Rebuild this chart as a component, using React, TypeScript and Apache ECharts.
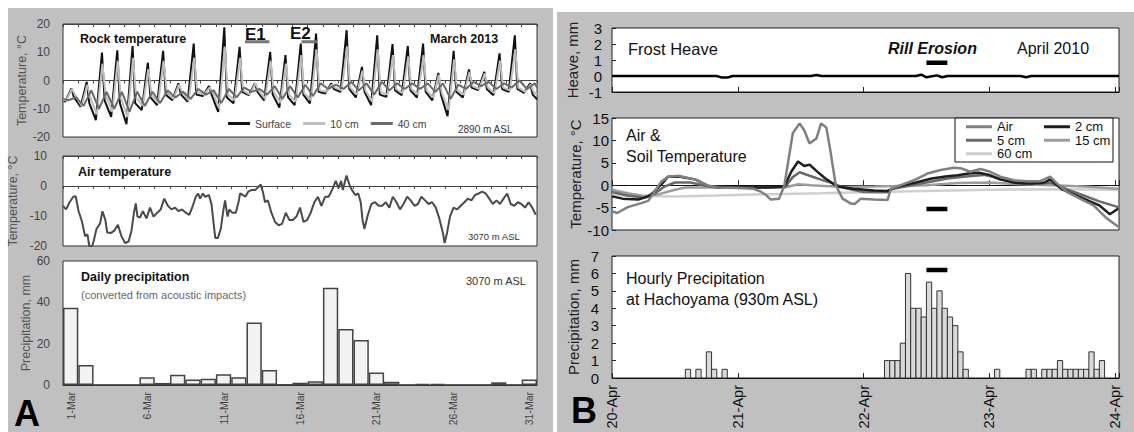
import React, { useEffect, useRef } from "react";
import * as echarts from "echarts";

// ---------- Panel A (March 2013) ----------
const marDays = Array.from({ length: 31 }, (_, i) => `${i + 1}-Mar`);
const precipMar = [37.4, 9.7, 0, 0, 0, 3.7, 1.0, 5.0, 2.7, 3.0, 5.2, 3.7, 30.2, 7.3, 0.2, 1.1, 1.8, 47.1, 27.1, 21.8, 6.0, 1.6, 0, 0.6, 0.5, 0, 0, 0, 1.3, 0, 2.7];

// rock temperature, daily extremes (°C)
const surfMin = [-7.5, -9.3, -14, -12.9, -15.5, -10.5, -8.7, -7, -7.5, -5.5, -11.1, -8.1, -5.2, -7, -9.6, -8.7, -8.1, -4.6, -4, -6, -8.7, -5.8, -5.2, -6, -7, -12.6, -6, -3.4, -5.2, -4, -4.4];
const surfMax = [-2.8, -0.5, 9.9, 10.7, 12.2, 6.3, 10.5, -1, 13.1, -2, 18.8, 11.9, -1, 10.1, 9.0, 13.1, 16.6, -1, 17.8, 4.8, 16, 12.9, 12.2, 13.1, 2.7, 10.5, 3.9, 3.1, 9.6, 16.0, -1];
const surfEve = [-6, -8, -7, -8, -8, -6, -5, -5, -5, -5, -6, -4, -4, -5, -6, -5, -4, -3, -3, -4, -5, -3.5, -3.5, -4, -5, -4, -2.5, -3, -3, -3, -5];
const cm10Min = [-7, -9, -12, -11, -13, -9, -8, -6.5, -7, -5, -10, -7, -5, -6.5, -8, -7.5, -7, -4, -3.5, -5, -7.5, -5, -4.5, -5, -6, -10.5, -5, -3, -4.5, -3.5, -4];
const cm10Max = [-3, -1.5, 6, 7, 8, 4, 7, -1.5, 8, -2.5, 12, 8, -1, 7, 6, 9, 11, -1.5, 12, 3.5, 11, 9, 8.5, 9, 2, 7.5, 3, 2.5, 7, 11, -1.5];
const cm10Eve = [-5, -6, -5, -6, -6, -5, -4, -4, -4, -4, -5, -3.5, -3.5, -4, -5, -4.5, -3.5, -2.5, -2.5, -3.5, -4, -3, -3, -3.5, -4.5, -3.5, -2, -2.5, -2.5, -2.5, -4];
const cm40Min = [-7, -9, -10, -10, -11, -9, -8, -6, -6.5, -5, -8, -6, -4, -5, -6.5, -6, -5.5, -3, -3, -3.5, -5, -3.5, -3, -3, -4, -6.5, -3, -2, -3, -2.5, -3];
const cm40Max = [-6, -3.5, -4, -4, -4, -4, -3.5, -4, -3, -3.5, -3, -2.5, -3, -2, -2, -1.5, -1, -1.5, -0.5, -1, -0.5, -1, -1, -1, -1, -1.5, -0.5, -0.5, -1, 0, -1];

// air temperature, [day, °C]
const airMar = [[0,-6.6],[0.2,-7.8],[0.43,-5.4],[0.67,-3.6],[0.83,-3.4],[1.02,-8.4],[1.25,-12],[1.44,-16.7],[1.6,-16.1],[1.72,-20],[1.91,-20],[2.0,-18.5],[2.19,-14.3],[2.42,-12.6],[2.58,-8.4],[2.77,-11.3],[2.89,-15.5],[3.12,-15.7],[3.35,-14.9],[3.59,-12.9],[3.82,-16.7],[4.06,-19],[4.29,-18.5],[4.48,-14.9],[4.64,-8.9],[4.76,-5.8],[4.87,-10.2],[5.04,-10.5],[5.22,-8.4],[5.46,-10.8],[5.69,-7.2],[5.92,-10.2],[6.16,-8.9],[6.39,-7.8],[6.62,-4.2],[6.86,-6.6],[7.09,-7.8],[7.33,-7.2],[7.56,-8.4],[7.79,-7.8],[8.03,-8.9],[8.26,-9.6],[8.49,-6.6],[8.68,-3.6],[8.84,-2.5],[8.96,-4.2],[9.15,-2.5],[9.31,-3.6],[9.54,-3],[9.71,-6],[9.85,-12.5],[9.96,-17.3],[10.13,-17.3],[10.32,-14.3],[10.48,-8.4],[10.6,-4.8],[10.76,-10.2],[10.88,-7.8],[11.06,-8.9],[11.3,-8.9],[11.48,-5.4],[11.58,-2.5],[11.76,-3],[11.93,-3.6],[12.11,-1.9],[12.35,-1.3],[12.58,-1.3],[12.7,-0.7],[12.93,0.5],[13.1,-2.5],[13.21,-5.4],[13.4,-4.8],[13.63,-8.9],[13.87,-12],[14.1,-13.1],[14.33,-12.6],[14.57,-8.9],[14.8,-11.3],[15.03,-11.3],[15.27,-10.2],[15.5,-7.2],[15.73,-12],[15.97,-11.3],[16.2,-8.9],[16.44,-5.4],[16.67,-3.6],[16.9,-6.6],[17.14,-3.6],[17.37,-3.6],[17.6,-1.3],[17.84,1.7],[18.02,-0.7],[18.19,1.7],[18.3,-1.3],[18.54,3.5],[18.77,-0.1],[18.89,-1.3],[19.12,-3],[19.31,-2.5],[19.47,-5.4],[19.59,-11.3],[19.71,-14.3],[19.94,-9.6],[20.17,-6],[20.41,-5.4],[20.64,-6.6],[20.87,-6.6],[21.11,-5.4],[21.34,-7.2],[21.57,-3.6],[21.81,-5.4],[22.04,-7.8],[22.27,-6],[22.51,-3.6],[22.74,-4.8],[22.98,-6.6],[23.21,-6],[23.44,-3.6],[23.68,-4.8],[23.91,-6],[24.14,-5.4],[24.38,-7.2],[24.61,-10.8],[24.84,-15.5],[24.96,-19],[25.12,-15.5],[25.31,-10.2],[25.54,-7.2],[25.78,-7.8],[26.01,-6.6],[26.25,-5.4],[26.48,-4.2],[26.71,-4.8],[26.95,-3],[27.18,-2.5],[27.41,-1.9],[27.65,-2.5],[27.88,-4.2],[28.11,-6],[28.35,-4.8],[28.58,-6],[28.81,-4.2],[29.05,-2.5],[29.28,-6],[29.52,-6.6],[29.75,-5.4],[29.98,-6],[30.22,-7.2],[30.45,-5.4],[30.69,-7.2],[30.92,-9.6]];

// ---------- Panel B (April 2010), x in hours from 20-Apr 00:00 ----------
const aprLabels = ["20-Apr", "21-Apr", "22-Apr", "23-Apr", "24-Apr"];
const heave = [[0,0],[20,0],[21,-0.1],[22,-0.1],[23,0],[38,0],[39,0.06],[40,0],[58,0],[59,0.08],[60,-0.08],[62,0.04],[63,-0.08],[64,0],[78,0],[79,-0.08],[80,0],[96.75,0]];
const airApr = [[0,-5.8],[1,-6.2],[3,-4.9],[5.6,-4],[6.9,-3.5],[8.1,-1.5],[9.4,0.8],[10.7,1.9],[12.6,2.1],[15.8,1.3],[18.3,-0.1],[20,-0.5],[24,-0.6],[27,-0.8],[28.5,-1.5],[29.4,-2.2],[30.3,-3.2],[31.9,-3],[32.9,0],[34.5,11.6],[35.8,13.8],[36.7,12.2],[37.7,9.3],[39,10.4],[39.9,13.8],[40.9,12.9],[41.7,7.5],[42.7,0],[44,-3],[45.6,-4.1],[46.3,-4.2],[47.5,-3],[50,-3.2],[52.6,-3.3],[53.2,-0.8],[55.1,0],[57.6,1.1],[60.2,2.6],[62.7,3.4],[65.2,3.9],[66.5,3.8],[68.4,3.0],[70.3,3.6],[72.2,3.0],[74.1,1.9],[76.7,1.1],[79.2,0.9],[81.7,0.9],[83.6,1.9],[84.9,0.4],[86.8,-1.5],[89.3,-3],[91.9,-4.5],[94.4,-7.4],[96.6,-9.3]];
const cm2Apr = [[0,-2.5],[2,-3],[5,-3.2],[7,-2.5],[8,-1.5],[9.5,0.3],[10.7,1.9],[13,1.9],[15.8,1.3],[18.3,-0.1],[20,-0.5],[30,-0.5],[32.9,-0.3],[34.2,3],[35.5,5.3],[36.7,4.3],[37.7,4.6],[39,3.2],[40.6,1.6],[42,0.5],[43,-0.3],[46,-0.8],[50,-1.2],[52.5,-1.3],[53.5,-0.8],[55,-0.2],[58,0.6],[61,1.5],[64,2.0],[66,2.2],[68,2.6],[70,2.8],[72,2.3],[74,1.3],[77,0.5],[80,0.4],[82.5,0.6],[83.6,1.3],[84.5,0.4],[86,-1],[88.5,-2.2],[91,-3.5],[93,-4.5],[95,-6.5],[96.6,-5.2]];
const cm5Apr = [[0,-1.5],[3,-2.3],[6,-2.8],[8,-2],[10,-0.3],[12,0.6],[15,0.6],[18,-0.2],[22,-0.5],[33,-0.4],[34.5,1.8],[35.8,2.9],[38,2],[40,1.2],[42,0.5],[44,-0.5],[48,-1.5],[52.5,-1.6],[53.5,-0.8],[56,-0.3],[60,0.6],[64,1.5],[68,2],[71,2.3],[74,1.5],[78,0.4],[82,0.3],[83.6,0.6],[85,0],[87,-1],[90,-2.3],[93,-3.6],[96.6,-4.9]];
const cm15Apr = [[0,-1],[3,-1.8],[6,-2.4],[9,-2],[12,-1],[14,-0.5],[20,-0.5],[33,-0.5],[35.5,0.2],[38,0],[44,-0.4],[50,-0.3],[54,-0.2],[60,0],[66,0.5],[72,0.6],[78,0.2],[84,0],[90,-0.3],[96.6,-0.8]];
const cm60Apr = [[0,-2.2],[6,-2.4],[12,-2.5],[20,-2.3],[30,-2.0],[40,-1.8],[48,-1.6],[60,-1.3],[72,-1.0],[84,-0.9],[96.6,-1.0]];
const rainHours = [14, 16, 18, 19, 21, 52, 53, 54, 55, 56, 57, 58, 59, 60, 61, 62, 63, 64, 65, 66, 67, 73, 79, 80, 82, 83, 84, 85, 86, 87, 88, 89, 90, 91, 92, 93];
const rainValues = [0.5, 0.5, 1.5, 0.5, 0.5, 1, 1, 1, 2, 6, 4, 4, 3.5, 5.5, 4, 5, 4, 3.5, 3, 1.5, 0.5, 0.5, 0.5, 0.5, 0.5, 0.5, 0.5, 1, 0.5, 0.5, 0.5, 0.5, 0.5, 1.5, 0.5, 1];
const rillSpan = [60, 64];
const e1Span = [11.9, 13.5];
const e2Span = [15.6, 16.6];

const FONT = '"Liberation Sans", Arial, sans-serif';

function cycle(mins: number[], maxs: number[], eves: number[] | null, tMin: number, tMax: number, tEve: number, first: number, last: number) {
  const pts: number[][] = [[0, first]];
  for (let i = 0; i < mins.length; i++) {
    pts.push([i + tMin, mins[i]], [i + tMax, maxs[i]]);
    if (eves) pts.push([i + tEve, eves[i]]);
  }
  pts.push([31, last]);
  return pts;
}

export default function App() {
  const ref = useRef<HTMLDivElement>(null);
  useEffect(() => {
    document.body.style.margin = "0";
    const chart = echarts.init(ref.current!, null, { renderer: "svg" });
    const gridBase = { show: true, backgroundColor: "#fff", borderColor: "#333", borderWidth: 1, containLabel: false };
    const leftY = (min: number, max: number, interval: number, name: string, gap: number, margin: number, gi: number) => ({
      type: "value", gridIndex: gi, min, max, interval, name, nameLocation: "middle", nameGap: gap,
      nameTextStyle: { fontSize: 12.5, color: "#555", fontFamily: FONT },
      axisLine: { show: false }, axisTick: { show: false }, splitLine: { show: false },
      axisLabel: { fontSize: 12, color: "#444", margin, fontFamily: FONT },
    });
    const rightY = (min: number, max: number, interval: number, name: string, gap: number, margin: number, gi: number) => ({
      type: "value", gridIndex: gi, min, max, interval, name, nameLocation: "middle", nameGap: gap,
      nameTextStyle: { fontSize: 15, color: "#222", fontFamily: FONT },
      axisLine: { show: false }, axisTick: { show: true, inside: true, length: 4, lineStyle: { color: "#222" } }, splitLine: { show: false },
      axisLabel: { fontSize: 15, color: "#111", margin, fontFamily: FONT },
    });
    const dayAxis = (gi: number, inside: boolean) => ({
      type: "value", gridIndex: gi, min: 0, max: 31, interval: 1,
      axisLine: { onZero: true, lineStyle: { color: "#444", width: 1 } },
      axisTick: { show: true, inside, length: 3, lineStyle: { color: "#444" } },
      axisLabel: { show: false }, splitLine: { show: false },
    });
    const hourAxis = (gi: number, onZero: boolean, labels: boolean) => ({
      type: "value", gridIndex: gi, min: 0, max: 96.75, interval: 24,
      axisLine: { onZero, lineStyle: { color: "#111", width: 1 } },
      axisTick: { show: true, inside: true, length: 5, lineStyle: { color: "#222" } },
      axisLabel: labels
        ? { show: true, rotate: 90, fontSize: 14.5, color: "#111", margin: 7, fontFamily: FONT,
            formatter: (v: number) => (v % 24 === 0 ? aprLabels[v / 24] : "") }
        : { show: false },
      splitLine: { show: false },
    });
    const line = (name: string, data: any, xi: number, yi: number, color: string, width: number) => ({
      name, type: "line", xAxisIndex: xi, yAxisIndex: yi, data, symbol: "none", showSymbol: false,
      lineStyle: { color, width }, itemStyle: { color }, emphasis: { disabled: true },
    });
    const txt = (x: number, y: number, text: string, font: string, fill = "#111") => ({
      type: "text", x, y, z: 10, style: { text, font, fill, verticalAlign: "middle" },
    });

    const option: any = {
      animation: false,
      textStyle: { fontFamily: FONT },
      grid: [
        { ...gridBase, left: 63, top: 24, width: 474, height: 113 },
        { ...gridBase, left: 63, top: 156, width: 474, height: 90 },
        { ...gridBase, left: 63, top: 261, width: 474, height: 124 },
        { ...gridBase, borderColor: "#222", left: 612, top: 28, width: 507, height: 64 },
        { ...gridBase, borderColor: "#222", left: 612, top: 118, width: 507, height: 112 },
        { ...gridBase, borderColor: "#222", left: 612, top: 256, width: 507, height: 122 },
      ],
      xAxis: [
        dayAxis(0, false),
        dayAxis(0, true),
        dayAxis(1, false),
        dayAxis(1, true),
        {
          type: "category", gridIndex: 2, data: marDays,
          axisLine: { lineStyle: { color: "#333" } }, axisTick: { show: false },
          axisLabel: { interval: 4, rotate: 90, fontSize: 10.5, color: "#444", margin: 7, fontFamily: FONT },
        },
        hourAxis(3, false, false),
        hourAxis(4, true, false),
        hourAxis(5, false, true),
      ],
      yAxis: [
        leftY(-20, 20, 10, "Temperature, °C", 31, 13, 0),
        leftY(-20, 10, 10, "Temperature, °C", 44, 16, 1),
        leftY(0, 60, 20, "Precipitation, mm", 31, 13, 2),
        rightY(-1, 3, 1, "Heave, mm", 32, 10, 3),
        rightY(-10, 15, 5, "Temperature, °C", 27, 3, 4),
        rightY(0, 7, 1, "Precipitation, mm", 31, 13, 5),
      ],
      legend: [
        {
          data: ["Surface", "10 cm", "40 cm"], left: 228, top: 118, itemWidth: 22, itemHeight: 3, itemGap: 12,
          icon: "rect", textStyle: { fontSize: 10.5, color: "#444", fontFamily: FONT }, padding: 0, z: 5,
        },
        {
          data: ["Air", "5 cm", "60 cm"], orient: "vertical", left: 966, top: 120, itemWidth: 26, itemHeight: 3, itemGap: 0,
          icon: "rect", textStyle: { fontSize: 13, lineHeight: 13.5, color: "#111", fontFamily: FONT }, padding: 0, z: 5,
        },
        {
          data: ["2 cm", "15 cm"], orient: "vertical", left: 1044, top: 120, itemWidth: 26, itemHeight: 3, itemGap: 0,
          icon: "rect", textStyle: { fontSize: 13, lineHeight: 13.5, color: "#111", fontFamily: FONT }, padding: 0, z: 5,
        },
      ],
      series: [
        line("Surface", cycle(surfMin, surfMax, surfEve, 0.15, 0.55, 0.72, -7, -6.7), 0, 0, "#111", 2),
        line("10 cm", cycle(cm10Min, cm10Max, cm10Eve, 0.22, 0.58, 0.78, -7, -5), 0, 0, "#bdbdbd", 2),
        line("40 cm", cycle(cm40Min, cm40Max, null, 0.35, 0.85, 0, -6.5, -2.5), 0, 0, "#6a6a6a", 2),
        line("E1 bar", [[e1Span[0], 13.7], [e1Span[1], 13.7]], 0, 0, "#777", 3),
        line("E2 bar", [[e2Span[0], 13.7], [e2Span[1], 13.7]], 0, 0, "#777", 3),
        line("Air temperature", airMar, 2, 1, "#4a4a4a", 2),
        {
          name: "Daily precipitation", type: "bar", xAxisIndex: 4, yAxisIndex: 2, data: precipMar, barCategoryGap: "0%",
          itemStyle: { color: "#f2f2f2", borderColor: "#444", borderWidth: 1.5 }, emphasis: { disabled: true },
        },
        line("Frost heave", heave, 5, 3, "#000", 2.5),
        line("Rill heave", rillSpan.map((h) => [h, 0.83]), 5, 3, "#000", 4.5),
        line("60 cm", cm60Apr, 6, 4, "#cfcfcf", 2.5),
        line("15 cm", cm15Apr, 6, 4, "#9c9c9c", 2.5),
        line("5 cm", cm5Apr, 6, 4, "#6a6a6a", 2.5),
        line("2 cm", cm2Apr, 6, 4, "#1e1e1e", 2.5),
        line("Air", airApr, 6, 4, "#808080", 2.5),
        line("Rill temp", rillSpan.map((h) => [h, -5.3]), 6, 4, "#000", 4.5),
        {
          name: "Hourly precipitation", type: "custom", xAxisIndex: 7, yAxisIndex: 5,
          data: rainHours.map((h, i) => [h, rainValues[i]]),
          encode: { x: 0, y: 1 },
          renderItem: (params: any, api: any) => {
            const h = api.value(0);
            const v = api.value(1);
            const p0 = api.coord([h, v]);
            const p1 = api.coord([h + 1, 0]);
            return {
              type: "rect",
              shape: { x: p0[0], y: p0[1], width: p1[0] - p0[0], height: p1[1] - p0[1] },
              style: { fill: "#d9d9d9", stroke: "#333", lineWidth: 1 },
            };
          },
          emphasis: { disabled: true },
        },
        line("Rill precip", rillSpan.map((h) => [h, 6.2]), 7, 5, "#000", 4.5),
      ],
      graphic: [
        { type: "rect", shape: { x: 955, y: 118, width: 158, height: 44 }, z: 4, style: { fill: "#fff", stroke: "#111", lineWidth: 1 } },
        txt(80, 38.5, "Rock temperature", `bold 12.5px ${FONT}`),
        txt(430, 38.5, "March 2013", `bold 12.5px ${FONT}`),
        txt(245, 34, "E1", `bold 17px ${FONT}`),
        txt(290, 33, "E2", `bold 17px ${FONT}`),
        txt(458, 129, "2890 m ASL", `10px ${FONT}`, "#333"),
        txt(78, 171.5, "Air temperature", `bold 12.5px ${FONT}`),
        txt(468, 236, "3070 m ASL", `9.5px ${FONT}`, "#333"),
        txt(81, 276.5, "Daily precipitation", `bold 12.5px ${FONT}`),
        txt(81, 295, "(converted from acoustic impacts)", `11px ${FONT}`, "#666"),
        txt(466, 281, "3070 m ASL", `11px ${FONT}`, "#333"),
        txt(14, 413, "A", `bold 36px ${FONT}`, "#000"),
        txt(628, 49, "Frost Heave", `16.5px ${FONT}`),
        txt(888, 48, "Rill Erosion", `italic bold 16px ${FONT}`),
        txt(1017, 48.5, "April 2010", `16px ${FONT}`),
        txt(626, 135, "Air &", `16px ${FONT}`),
        txt(626, 156.5, "Soil Temperature", `16px ${FONT}`),
        txt(626, 278, "Hourly Precipitation", `16px ${FONT}`),
        txt(626, 299.5, "at Hachoyama (930m ASL)", `16px ${FONT}`),
        txt(571, 410, "B", `bold 36px ${FONT}`, "#000"),
      ],
    };
    chart.setOption(option);
    return () => chart.dispose();
  }, []);

  return (
    <div style={{ position: "relative", width: 1134, height: 432, background: "#fff", overflow: "hidden" }}>
      <div style={{ position: "absolute", left: 8, top: 8, width: 545, height: 424, background: "#c0c0c0" }} />
      <div style={{ position: "absolute", left: 557, top: 12, width: 577, height: 420, background: "#c0c0c0" }} />
      <div ref={ref} style={{ position: "absolute", left: 0, top: 0, width: 1134, height: 432 }} />
    </div>
  );
}
